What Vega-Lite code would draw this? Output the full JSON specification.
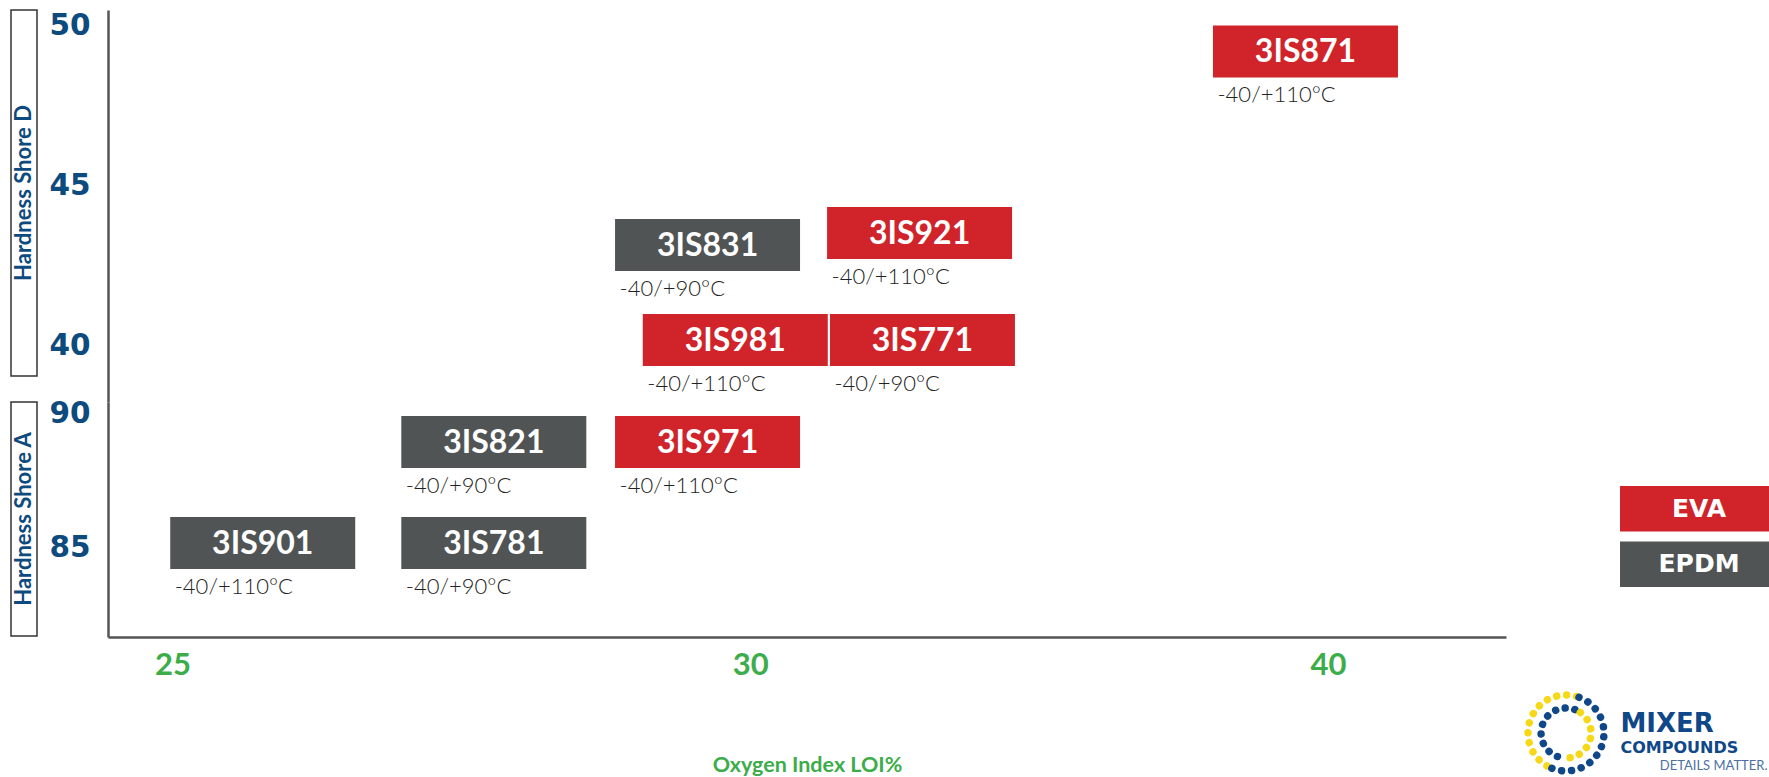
{
  "$schema": "https://vega.github.io/schema/vega-lite/v6.json",
  "autosize": {"type": "pad"},
  "padding": {"left": 10, "top": 9, "right": 0, "bottom": 0},
  "background": "white",
  "config": {
    "view": {"stroke": null},
    "axis": {"grid": false, "ticks": false, "tickSize": 0, "domainColor": "#555555", "domainWidth": 2.5, "labelOverlap": false, "labelFlush": false}
  },
  "datasets": {
    "products": [
      {"code": "3IS871", "material": "EVA", "loi": 39.61, "shore": "D", "hardness": 49.08, "temp": "-40/+110°C"},
      {"code": "3IS831", "material": "EPDM", "loi": 29.63, "shore": "D", "hardness": 43.03, "temp": "-40/+90°C"},
      {"code": "3IS921", "material": "EVA", "loi": 32.93, "shore": "D", "hardness": 43.41, "temp": "-40/+110°C"},
      {"code": "3IS981", "material": "EVA", "loi": 29.87, "shore": "D", "hardness": 40.06, "temp": "-40/+110°C"},
      {"code": "3IS771", "material": "EVA", "loi": 32.98, "shore": "D", "hardness": 40.06, "temp": "-40/+90°C"},
      {"code": "3IS821", "material": "EPDM", "loi": 27.78, "shore": "A", "hardness": 88.83, "temp": "-40/+90°C"},
      {"code": "3IS971", "material": "EVA", "loi": 29.63, "shore": "A", "hardness": 88.83, "temp": "-40/+110°C"},
      {"code": "3IS901", "material": "EPDM", "loi": 25.78, "shore": "A", "hardness": 85.04, "temp": "-40/+110°C"},
      {"code": "3IS781", "material": "EPDM", "loi": 27.78, "shore": "A", "hardness": 85.04, "temp": "-40/+90°C"}
    ],
    "materials": [{"material": "EVA"}, {"material": "EPDM"}],
    "logo": [{"line": "MIXER"}, {"line": "COMPOUNDS"}, {"line": "DETAILS MATTER."}]
  },
  "bounds": "flush",
  "align": "each",
  "spacing": 0,
  "columns": 7,
  "resolve": {"scale": {"x": "independent", "y": "independent", "color": "independent"}},
  "concat": [
    {
      "width": 26, "height": 366,
      "view": {"stroke": "#333333", "strokeWidth": 1.5},
      "data": {"values": [{"title": "Hardness Shore D"}]},
      "mark": {"type": "text", "angle": 270, "font": "Lato", "fontWeight": "bold", "fontSize": 22, "color": "#0d4a7e", "align": "center", "baseline": "middle"},
      "encoding": {"text": {"field": "title"}}
    },
    {"width": 71, "height": 1, "data": {"values": []}, "mark": {"type": "text"}, "encoding": {}},
    {
      "width": 1398, "height": 392,
      "data": {"name": "products"},
      "transform": [{"filter": "datum.shore === 'D'"}],
      "encoding": {
        "x": {"field": "loi", "type": "quantitative", "scale": {"domain": [24.44, 25, 30, 40, 43.08], "range": [0, 64.6, 642.3, 1220, 1398], "nice": false, "zero": false}, "axis": null},
        "y": {"field": "hardness", "type": "quantitative", "scale": {"domain": [38.125, 50.375], "nice": false, "zero": false},
              "axis": {"values": [40, 45, 50], "title": null, "labelFont": "DejaVu Sans", "labelFontWeight": "bold", "labelFontSize": 29.5, "labelColor": "#0d4a7e", "labelPadding": 18, "labelOffset": 3}}
      },
      "layer": [
        {"mark": {"type": "rect", "width": 185, "height": 52},
         "encoding": {"color": {"field": "material", "type": "nominal", "scale": {"domain": ["EVA", "EPDM"], "range": ["#d0232a", "#505455"]}, "legend": null}}},
        {"mark": {"type": "text", "font": "Lato", "fontWeight": "bold", "fontSize": 32, "color": "white", "align": "center", "baseline": "middle", "dy": 1},
         "encoding": {"text": {"field": "code"}}},
        {"mark": {"type": "text", "font": "Lato", "fontWeight": 300, "fontSize": 22, "color": "#222222", "align": "left", "baseline": "middle", "dx": -88, "dy": 44},
         "encoding": {"text": {"field": "temp"}}}
      ]
    },
    {"width": 19, "height": 1, "data": {"values": []}, "mark": {"type": "text"}, "encoding": {}},
    {"width": 82, "height": 1, "data": {"values": []}, "mark": {"type": "text"}, "encoding": {}},
    {"width": 13, "height": 1, "data": {"values": []}, "mark": {"type": "text"}, "encoding": {}},
    {"width": 149, "height": 1, "data": {"values": []}, "mark": {"type": "text"}, "encoding": {}},

    {
      "width": 26, "height": 234,
      "view": {"stroke": "#333333", "strokeWidth": 1.5},
      "data": {"values": [{"title": "Hardness Shore A"}]},
      "mark": {"type": "text", "angle": 270, "font": "Lato", "fontWeight": "bold", "fontSize": 22, "color": "#0d4a7e", "align": "center", "baseline": "middle"},
      "encoding": {"text": {"field": "title"}}
    },
    {"width": 71, "height": 1, "data": {"values": []}, "mark": {"type": "text"}, "encoding": {}},
    {
      "width": 1398, "height": 235,
      "data": {"name": "products"},
      "transform": [{"filter": "datum.shore === 'A'"}],
      "encoding": {
        "x": {"field": "loi", "type": "quantitative", "scale": {"domain": [24.44, 25, 30, 40, 43.08], "range": [0, 64.6, 642.3, 1220, 1398], "nice": false, "zero": false},
              "axis": {"values": [25, 30, 40], "title": "Oxygen Index LOI%", "labelFont": "Lato", "labelFontWeight": 700, "labelFontSize": 31, "labelColor": "#3cad4a", "labelPadding": 13,
                       "titleFont": "Lato", "titleFontWeight": 700, "titleFontSize": 21.5, "titleColor": "#3cad4a", "titleY": 134, "titleBaseline": "alphabetic"}},
        "y": {"field": "hardness", "type": "quantitative", "scale": {"domain": [81.504, 90.338], "nice": false, "zero": false},
              "axis": {"values": [85, 90], "title": null, "labelFont": "DejaVu Sans", "labelFontWeight": "bold", "labelFontSize": 29.5, "labelColor": "#0d4a7e", "labelPadding": 18, "labelOffset": 3}}
      },
      "layer": [
        {"mark": {"type": "rect", "width": 185, "height": 52},
         "encoding": {"color": {"field": "material", "type": "nominal", "scale": {"domain": ["EVA", "EPDM"], "range": ["#d0232a", "#505455"]}, "legend": null}}},
        {"mark": {"type": "text", "font": "Lato", "fontWeight": "bold", "fontSize": 32, "color": "white", "align": "center", "baseline": "middle", "dy": 1},
         "encoding": {"text": {"field": "code"}}},
        {"mark": {"type": "text", "font": "Lato", "fontWeight": 300, "fontSize": 22, "color": "#222222", "align": "left", "baseline": "middle", "dx": -88, "dy": 44},
         "encoding": {"text": {"field": "temp"}}}
      ]
    },
    {"width": 19, "height": 1, "data": {"values": []}, "mark": {"type": "text"}, "encoding": {}},
    {"width": 82, "height": 1, "data": {"values": []}, "mark": {"type": "text"}, "encoding": {}},
    {"width": 13, "height": 1, "data": {"values": []}, "mark": {"type": "text"}, "encoding": {}},
    {
      "width": 149, "height": 185,
      "data": {"name": "materials"},
      "encoding": {"y": {"field": "material", "type": "nominal", "sort": ["EVA", "EPDM"], "scale": {"range": [84, 185], "paddingInner": 0.18, "paddingOuter": 0}, "axis": null}},
      "layer": [
        {"mark": {"type": "rect"}, "encoding": {"color": {"field": "material", "type": "nominal", "scale": {"domain": ["EVA", "EPDM"], "range": ["#d0232a", "#505455"]}, "legend": null}}},
        {"mark": {"type": "text", "font": "DejaVu Sans", "fontWeight": "bold", "fontSize": 25, "color": "white", "align": "center", "baseline": "middle", "dx": 4.5}, "encoding": {"text": {"field": "material"}}}
      ]
    },

    {"width": 26, "height": 59, "data": {"values": []}, "mark": {"type": "text"}, "encoding": {}},
    {"width": 71, "height": 1, "data": {"values": []}, "mark": {"type": "text"}, "encoding": {}},
    {"width": 1398, "height": 1, "data": {"values": []}, "mark": {"type": "text"}, "encoding": {}},
    {"width": 19, "height": 1, "data": {"values": []}, "mark": {"type": "text"}, "encoding": {}},
    {"width": 82, "height": 1, "data": {"values": []}, "mark": {"type": "text"}, "encoding": {}},
    {"width": 13, "height": 1, "data": {"values": []}, "mark": {"type": "text"}, "encoding": {}},
    {"width": 149, "height": 1, "data": {"values": []}, "mark": {"type": "text"}, "encoding": {}},

    {"width": 26, "height": 1, "data": {"values": []}, "mark": {"type": "text"}, "encoding": {}},
    {"width": 71, "height": 1, "data": {"values": []}, "mark": {"type": "text"}, "encoding": {}},
    {"width": 1398, "height": 1, "data": {"values": []}, "mark": {"type": "text"}, "encoding": {}},
    {"width": 19, "height": 1, "data": {"values": []}, "mark": {"type": "text"}, "encoding": {}},
    {
      "width": 82, "height": 74,
      "data": {"values": [{"logo": "Mixer Compounds"}]},
      "layer": [
        {"mark": {"type": "point", "shape": "M-0.5,0.866A1,1,0,0,1,0.342,-0.94", "size": 5776, "filled": false, "fill": null, "stroke": "#f6d816", "strokeWidth": 7.5, "strokeDash": [0.01, 10], "strokeCap": "round", "opacity": 1}, "encoding": {}},
        {"mark": {"type": "point", "shape": "M0.342,-0.94A1,1,0,1,1,-0.5,0.866", "size": 5776, "filled": false, "fill": null, "stroke": "#0f4788", "strokeWidth": 7.5, "strokeDash": [0.01, 10], "strokeCap": "round", "opacity": 1}, "encoding": {}},
        {"mark": {"type": "point", "shape": "M-0.342,0.94A1,1,0,1,1,0.423,-0.906", "size": 2500, "filled": false, "fill": null, "stroke": "#0f4788", "strokeWidth": 7.5, "strokeDash": [0.01, 9.8], "strokeCap": "round", "opacity": 1}, "encoding": {}},
        {"mark": {"type": "point", "shape": "M0.574,-0.819A1,1,0,0,1,-0.174,0.985", "size": 2500, "filled": false, "fill": null, "stroke": "#f6d816", "strokeWidth": 7.5, "strokeDash": [0.01, 9.8], "strokeCap": "round", "opacity": 1}, "encoding": {}}
      ]
    },
    {"width": 13, "height": 1, "data": {"values": []}, "mark": {"type": "text"}, "encoding": {}},
    {
      "width": 149, "height": 74,
      "data": {"name": "logo"},
      "encoding": {"y": {"field": "line", "type": "nominal", "scale": {"type": "point", "domain": ["MIXER", "COMPOUNDS", "DETAILS MATTER."], "range": [29, 70.5], "padding": 0}, "axis": null}},
      "layer": [
        {"transform": [{"filter": "datum.line === 'MIXER'"}], "mark": {"type": "text", "font": "DejaVu Sans", "fontWeight": "bold", "fontSize": 26, "color": "#0f4788", "align": "left", "baseline": "middle", "dx": -74, "dy": -1}, "encoding": {"text": {"field": "line"}}},
        {"transform": [{"filter": "datum.line === 'COMPOUNDS'"}], "mark": {"type": "text", "font": "DejaVu Sans", "fontWeight": "bold", "fontSize": 16, "color": "#0f4788", "align": "left", "baseline": "middle", "dx": -74, "dy": 2}, "encoding": {"text": {"field": "line"}}},
        {"transform": [{"filter": "datum.line === 'DETAILS MATTER.'"}], "mark": {"type": "text", "font": "Lato", "fontSize": 13, "color": "#4d6fa3", "align": "right", "baseline": "middle", "dx": 73, "dy": -1}, "encoding": {"text": {"field": "line"}}}
      ]
    }
  ]
}
